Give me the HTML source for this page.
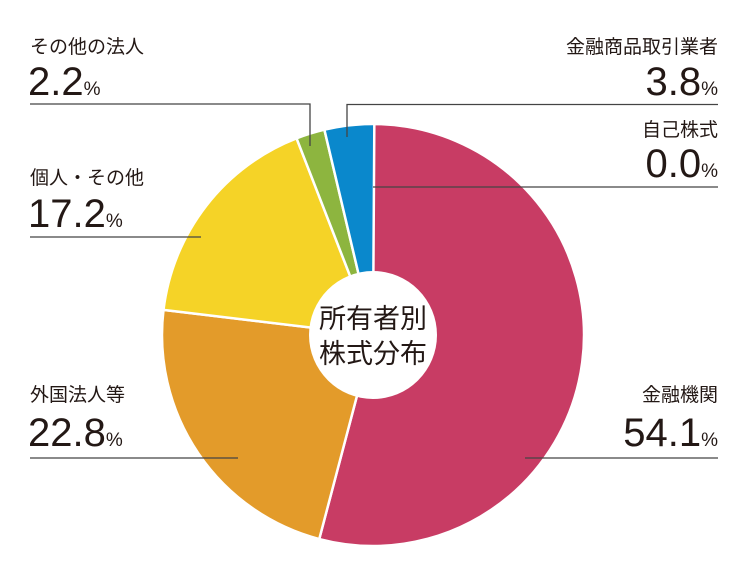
<!DOCTYPE html>
<html><head><meta charset="utf-8"><style>
body{margin:0;background:#fff;width:750px;height:560px;overflow:hidden}
svg text{font-family:"Liberation Sans","Noto Sans CJK JP",sans-serif;fill:#231815}
</style></head><body>
<svg id="s" width="750" height="560" viewBox="0 0 750 560">
<g id="pie"></g>
<circle cx="373" cy="335" r="64" fill="#fff"/>
<g stroke="#444" stroke-width="1.3" fill="none">
<polyline points="30,104 310,104 310,146"/>
<polyline points="718,104.5 347,104.5 347,137"/>
<line x1="373" y1="187" x2="718" y2="187"/>
<line x1="30" y1="237" x2="201" y2="237"/>
<line x1="30" y1="458" x2="238" y2="458"/>
<line x1="525" y1="458" x2="718" y2="458"/>
</g>
<g font-size="19">
<text x="30" y="53">その他の法人</text>
<text x="30" y="184">個人・その他</text>
<text x="30" y="401">外国法人等</text>
<text x="718" y="53" text-anchor="end">金融商品取引業者</text>
<text x="718" y="136" text-anchor="end">自己株式</text>
<text x="718" y="401" text-anchor="end">金融機関</text>
</g>
<g font-size="40">
<text x="28" y="95">2.2<tspan font-size="19">%</tspan></text>
<text x="28" y="227">17.2<tspan font-size="19">%</tspan></text>
<text x="28" y="446">22.8<tspan font-size="19">%</tspan></text>
<text x="718" y="95" text-anchor="end">3.8<tspan font-size="19">%</tspan></text>
<text x="718" y="177" text-anchor="end">0.0<tspan font-size="19">%</tspan></text>
<text x="718" y="446" text-anchor="end">54.1<tspan font-size="19">%</tspan></text>
</g>
<g font-size="27" text-anchor="middle">
<text x="373" y="328">所有者別</text>
<text x="373" y="363">株式分布</text>
</g>
</svg>
<script>
var d=[[54.1,"#c83c64"],[22.8,"#e39b2a"],[17.2,"#f5d327"],[2.2,"#8db53f"],[3.8,"#0a88cc"]];
var cx=373,cy=335,R=211,a=0,h="";
d.forEach(function(e){var b=a+e[0]/100*2*Math.PI;
var x1=cx+R*Math.sin(a),y1=cy-R*Math.cos(a),x2=cx+R*Math.sin(b),y2=cy-R*Math.cos(b);
h+='<path d="M'+cx+','+cy+'L'+x1+','+y1+'A'+R+','+R+' 0 '+(b-a>Math.PI?1:0)+' 1 '+x2+','+y2+'Z" fill="'+e[1]+'" stroke="#fff" stroke-width="2.5"/>';a=b;});
document.getElementById("pie").innerHTML=h;
</script>
</body></html>
